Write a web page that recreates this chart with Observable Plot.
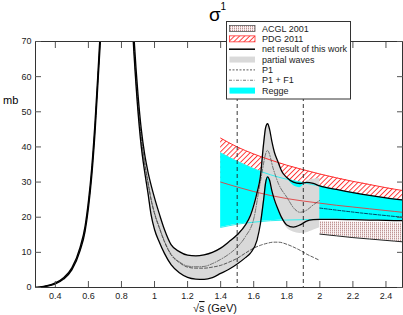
<!DOCTYPE html>
<html><head><meta charset="utf-8">
<script src="https://cdn.jsdelivr.net/npm/d3@7"></script>
<script src="https://cdn.jsdelivr.net/npm/@observablehq/plot@0.6"></script>
<style>
html,body{margin:0;padding:0;background:#fff;}
#chart{width:403px;height:315px;position:relative;}
</style>
</head><body>
<svg width="0" height="0" style="position:absolute">
<defs>
<pattern id="pdgHatch" patternUnits="userSpaceOnUse" width="3.6" height="3.6" patternTransform="rotate(45)">
  <line x1="0.5" y1="0" x2="0.5" y2="3.6" stroke="#ff2a2a" stroke-width="0.9"/>
</pattern>
<pattern id="acglHatch" patternUnits="userSpaceOnUse" width="2" height="2">
  <rect x="0" y="0" width="1" height="1" fill="#c09494"/>
  <rect x="0" y="1" width="1" height="1" fill="#e2cccc"/>
  <rect x="1" y="0" width="1" height="2" fill="#faf4f4"/>
</pattern>
</defs>
</svg>
<div id="chart"></div>
<script>
// ---------- data ----------
const xTicks = [0.4, 0.6, 0.8, 1, 1.2, 1.4, 1.6, 1.8, 2, 2.2, 2.4];
const yTicks = [0, 10, 20, 30, 40, 50, 60, 70];

// net result of this work (upper / lower black lines)
const netX     = [0.28,0.30,0.35,0.40,0.45,0.50,0.55,0.58,0.60,0.62,0.64,0.66,0.68,0.70,0.75,0.775,0.80,0.85,0.875,0.90,0.92,0.94,0.96,0.98,1.00,1.03,1.06,1.10,1.15,1.20,1.25,1.30,1.35,1.40,1.45,1.50,1.55,1.58,1.62,1.64,1.66,1.672,1.684,1.696,1.71,1.725,1.745,1.77,1.80,1.84,1.88,1.92,1.96,2.00,2.10,2.20,2.30,2.40,2.50];
const netUpper = [0.0,0.1,0.5,1.3,2.8,5.6,11.5,17.5,24.5,34,47,63,80,98,135,140,133,95,72,55,45,38,33,29,25.5,20.8,16.5,12.2,10.2,9.2,9.0,9.3,10.0,11.2,13.0,15.0,17.8,20.5,27,31.5,41,45.5,46.6,45,41.5,38.5,36,33,31.3,30.0,29.6,29.9,29.6,28.9,27.9,27.0,26.2,25.5,24.9];
const netLower = [0.0,0.05,0.4,1.0,2.4,5.0,10.5,16,22.5,31.5,44,60,76,94,128,133,126,88,67,50,40,33,27,20.5,16.5,12.8,9.7,6.5,4.2,2.9,2.4,2.3,2.8,4.0,5.2,6.7,8.5,9.8,13.5,18,25,29.8,31.5,30.5,27.5,25,22.5,19.8,17.8,17.2,17.8,18.9,19.3,19.4,19.4,19.3,19.2,19.1,19.0];

// partial waves (grey band)
const pwX     = [0.28,0.30,0.35,0.40,0.45,0.50,0.55,0.58,0.60,0.62,0.64,0.66,0.68,0.70,0.75,0.775,0.80,0.85,0.875,0.90,0.92,0.94,0.96,0.98,1.00,1.03,1.06,1.10,1.15,1.20,1.25,1.30,1.35,1.40,1.45,1.50,1.55,1.58,1.62,1.64,1.66,1.672,1.684,1.696,1.71,1.725,1.745,1.77,1.80,1.84,1.88,1.92,1.96,2.00];
const pwUpper = [0.0,0.1,0.5,1.3,2.8,5.6,11.5,17.5,24.5,34,47,63,80,98,135,140,133,95,72,55,45,38,33,29,25.5,20.8,16.5,12.2,10.2,9.2,9.0,9.3,10.0,11.2,13.0,15.0,17.8,20.5,27,31.5,41,45.5,46.6,45,41.5,38.5,36,33,31.3,29.0,28.4,30.2,30.8,31.0];
const pwLower = [0.0,0.05,0.4,1.0,2.4,5.0,10.5,16,22.5,31.5,44,60,76,94,128,133,126,88,67,50,40,33,27,20.5,16.5,12.8,9.7,6.5,4.2,2.9,2.4,2.3,2.8,4.0,5.2,6.7,8.5,9.8,13.5,18,25,29.8,31.5,30.5,27.5,25,22.5,19.8,17.0,15.8,15.4,15.6,16.3,17.0];

// P1 and P1 + F1
const pX   = [0.28,0.30,0.35,0.40,0.45,0.50,0.55,0.58,0.60,0.62,0.64,0.66,0.68,0.70,0.75,0.775,0.80,0.85,0.875,0.90,0.92,0.94,0.96,0.98,1.00,1.03,1.06,1.10,1.15,1.20,1.25,1.30,1.35,1.40,1.45,1.50,1.55,1.60,1.64,1.683,1.72,1.75,1.80,1.85,1.88,1.92,1.96,2.00];
const p1   = [0,0.08,0.45,1.15,2.6,5.3,11.0,16.7,23.5,32.7,45.5,61.5,78,96,131,136,129,91,69,52,42.5,35.5,30,24.8,21,16.8,13,9.3,7.1,5.8,5.5,5.5,5.8,6.3,7.2,8.3,9.8,11.2,12.0,12.6,12.9,12.9,12.3,11.3,10.6,9.5,8.6,7.7];
const p1f1 = [0,0.08,0.45,1.15,2.6,5.3,11.0,16.7,23.5,32.7,45.5,61.5,78,96,131,136,129,91,69,52,42.5,35.5,30,25.0,21.2,17.0,13.2,9.5,7.3,6.1,5.9,6.0,6.8,8.0,9.5,11.5,14.5,19.5,30,39,33.5,29.5,25.7,22.2,21.4,22.0,23.5,24.8];

// Regge band and its central value
const reggeX      = [1.4,1.5,1.6,1.7,1.8,1.9,2.0,2.1,2.2,2.3,2.4,2.5];
const reggeUpper  = [38.3,35.9,33.8,32.1,30.8,29.8,28.9,27.9,27.0,26.2,25.5,24.9];
const reggeLower  = [17.1,18.0,18.6,19.0,19.2,19.3,19.4,19.4,19.3,19.2,19.1,19.0];
const reggeMidX   = [2.0,2.25,2.5];
const reggeMid    = [22.6,21.2,20.0];

// PDG 2011
const pdgX     = [1.4,1.5,1.6,1.7,1.8,1.9,2.0,2.1,2.2,2.3,2.4,2.5];
const pdgUpper = [42.5,40.0,38.0,36.3,34.8,33.5,32.3,31.2,30.2,29.3,28.4,27.6];
const pdgLower = [30.0,28.6,27.3,26.2,25.3,24.6,24.0,23.4,22.9,22.4,21.9,21.4];

// ACGL 2001
const acglX     = [2.0,2.1,2.2,2.3,2.4,2.5];
const acglUpper = [18.8,18.7,18.6,18.5,18.4,18.3];
const acglLower = [15.2,14.7,14.2,13.8,13.4,13.0];

// vertical cuts
const cuts = [1.5, 1.9];

// ---------- tables ----------
const zipBand = (xs, hi, lo) => xs.map((x, i) => ({x, hi: hi[i], lo: lo[i]}));
const zipLine = (xs, ys) => xs.map((x, i) => ({x, y: ys[i]}));
const net   = zipBand(netX, netUpper, netLower);
const pw    = zipBand(pwX, pwUpper, pwLower);
const regge = zipBand(reggeX, reggeUpper, reggeLower);
const reggeInner = regge.filter(d => d.x <= 2.0);
const pdg   = zipBand(pdgX, pdgUpper, pdgLower);
const acgl  = zipBand(acglX, acglUpper, acglLower);
const p1L   = zipLine(pX, p1);
const p1f1L = zipLine(pX, p1f1);
const midL  = zipLine(reggeMidX, reggeMid);

const font = "Liberation Sans, Arial, Helvetica, sans-serif";
const cv = "monotone-x";

const svg = Plot.plot({
  width: 403, height: 315,
  marginLeft: 35, marginRight: 1, marginTop: 41, marginBottom: 28,
  x: {domain: [0.28, 2.5]},
  y: {domain: [0, 70]},
  style: {fontFamily: font, fontSize: "9px", color: "#222", background: "white", overflow: "visible"},
  marks: [
    Plot.areaY(pdg, {x: "x", y1: "lo", y2: "hi", fill: "url(#pdgHatch)", curve: cv}),
    Plot.areaY(regge, {x: "x", y1: "lo", y2: "hi", fill: "#00ffff", curve: cv}),
    Plot.areaY(pw, {x: "x", y1: "lo", y2: "hi", fill: "#d9d9d9", curve: cv, clip: true}),
    Plot.areaY(acgl, {x: "x", y1: "lo", y2: "hi", fill: "url(#acglHatch)", curve: cv}),
    Plot.line(reggeInner, {x: "x", y: "hi", stroke: "#2ff0f0", strokeWidth: 1, curve: cv}),
    Plot.line(reggeInner, {x: "x", y: "lo", stroke: "#2ff0f0", strokeWidth: 1, curve: cv}),
    Plot.line(pdg, {x: "x", y: "hi", stroke: "#ff3030", strokeWidth: 1, curve: cv}),
    Plot.line(pdg, {x: "x", y: "lo", stroke: "#e04040", strokeWidth: 0.9, curve: cv}),
    Plot.line(p1L, {x: "x", y: "y", stroke: "#333", strokeWidth: 0.8, strokeDasharray: "3,2", curve: cv, clip: true}),
    Plot.line(p1f1L, {x: "x", y: "y", stroke: "#444", strokeWidth: 0.7, strokeDasharray: "4,1.5,1,1.5", curve: cv, clip: true}),
    Plot.line(midL, {x: "x", y: "y", stroke: "#035", strokeWidth: 0.9, strokeDasharray: "3,1.5", curve: cv}),
    Plot.line(net, {x: "x", y: "hi", stroke: "black", strokeWidth: 1.3, curve: cv, clip: true}),
    Plot.line(net, {x: "x", y: "lo", stroke: "black", strokeWidth: 1.3, curve: cv, clip: true}),
    Plot.line(acgl, {x: "x", y: "lo", stroke: "#222", strokeWidth: 1, curve: cv}),
    Plot.ruleX(cuts, {stroke: "#222", strokeWidth: 0.9, strokeDasharray: "4,3"}),
    Plot.frame({stroke: "#333", strokeWidth: 1}),
    Plot.axisX(xTicks, {anchor: "bottom", tickSize: 0, tickPadding: 5, tickFormat: d => String(d), label: null, fontSize: 9}),
    Plot.axisX(xTicks, {anchor: "bottom", tickSize: 6, dy: -6, tickFormat: () => "", label: null, stroke: "#555"}),
    Plot.axisX(xTicks, {anchor: "top", tickSize: 6, dy: 6, tickFormat: () => "", label: null, stroke: "#555"}),
    Plot.axisY(yTicks, {anchor: "left", tickSize: 0, tickPadding: 4, label: null, fontSize: 9}),
    Plot.axisY(yTicks, {anchor: "left", tickSize: 6, dx: 6, tickFormat: () => "", label: null, stroke: "#555"}),
    Plot.axisY(yTicks, {anchor: "right", tickSize: 6, dx: -6, tickFormat: () => "", label: null, stroke: "#555"})
  ]
});
document.getElementById("chart").appendChild(svg);

// ---------- titles & legend ----------
const s = d3.select(svg);
const txt = (x, y, size, str) => s.append("text").attr("x", x).attr("y", y)
  .attr("font-family", font).attr("font-size", size).attr("fill", "#000")
  .attr("text-anchor", "start").text(str);
txt(209, 21, 19, "σ");
txt(220.5, 10, 10, "1");
txt(3, 104, 11, "mb");
const xl = s.append("text").attr("x", 193).attr("y", 312).attr("font-family", font)
  .attr("font-size", 11).attr("fill", "#111").attr("text-anchor", "start");
xl.append("tspan").text("√");
xl.append("tspan").style("text-decoration", "overline").text("s");
xl.append("tspan").text(" (GeV)");

const legendItems = [
  {label: "ACGL 2001", kind: "rect", fill: "url(#acglHatch)", stroke: "#555"},
  {label: "PDG 2011", kind: "rect", fill: "url(#pdgHatch)", stroke: "#ff3030"},
  {label: "net result of this work", kind: "line", stroke: "#000", width: 1.5, dash: null},
  {label: "partial waves", kind: "rect", fill: "#d9d9d9", stroke: "none"},
  {label: "P1", kind: "line", stroke: "#333", width: 0.8, dash: "2,1.5"},
  {label: "P1 + F1", kind: "line", stroke: "#555", width: 0.8, dash: "3,1.5,1,1.5"},
  {label: "Regge", kind: "rect", fill: "#00ffff", stroke: "none"}
];
const lg = s.append("g").attr("text-anchor", "start");
lg.append("rect").attr("x", 226.5).attr("y", 21.5).attr("width", 124).attr("height", 77.5)
  .attr("fill", "white").attr("stroke", "#333").attr("stroke-width", 1);
legendItems.forEach((d, i) => {
  const cy = 28.5 + i * 10.35;
  if (d.kind === "rect") {
    lg.append("rect").attr("x", 229.5).attr("y", cy - 3).attr("width", 25.5).attr("height", 6)
      .attr("fill", d.fill).attr("stroke", d.stroke).attr("stroke-width", 0.8);
  } else {
    lg.append("line").attr("x1", 229).attr("x2", 255).attr("y1", cy).attr("y2", cy)
      .attr("stroke", d.stroke).attr("stroke-width", d.width).attr("stroke-dasharray", d.dash);
  }
  lg.append("text").attr("x", 262).attr("y", cy).attr("dy", "0.36em").attr("text-anchor", "start")
    .attr("font-family", font).attr("font-size", 9).attr("fill", "#222").text(d.label);
});
</script>
</body></html>
